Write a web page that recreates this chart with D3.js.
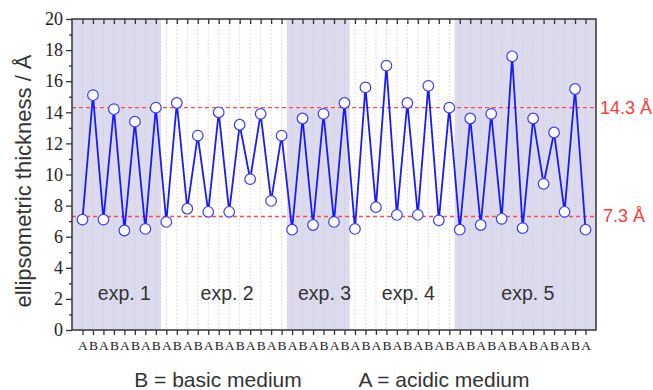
<!DOCTYPE html>
<html>
<head>
<meta charset="utf-8">
<script src="https://cdn.jsdelivr.net/npm/d3@7"></script>
<style>
  body { margin: 0; background: #fff; }
  svg { display: block; }
</style>
</head>
<body>
<div class="chart"></div>
<script>
// measured thickness for each step, A = acidic, B = basic
var thickness = [7.1, 15.1, 7.1, 14.2, 6.4, 13.4, 6.5, 14.3,
  6.95, 14.6, 7.8, 12.5, 7.6, 14.0, 7.6, 13.2, 9.7, 13.9, 8.3, 12.5,
  6.45, 13.6, 6.75, 13.9, 6.95, 14.6,
  6.5, 15.6, 7.9, 17.0, 7.4, 14.6, 7.4, 15.7, 7.05, 14.3,
  6.45, 13.6, 6.75, 13.9, 7.15, 17.6, 6.55, 13.6, 9.4, 12.7, 7.6, 15.5, 6.45];
var stepLabels = thickness.map(function(d, i){ return i % 2 === 0 ? "A" : "B"; });

var expNames = ["exp. 1", "exp. 2", "exp. 3", "exp. 4", "exp. 5"];
var expFrom = [0, 8.5, 20.5, 26.5, 36.5];
var expTo = [8.5, 20.5, 26.5, 36.5, 50];
var expShaded = [true, false, true, false, true];
var expLabelAt = [5, 14.8, 24.1, 32.1, 43.5];

var refLines = [14.3, 7.3];
var refLabels = ["14.3 Å", "7.3 Å"];
var yTicks = [0, 2, 4, 6, 8, 10, 12, 14, 16, 18, 20];

var margin = {top: 19, right: 57, bottom: 60, left: 72};
var W = 653, H = 390;
var w = W - margin.left - margin.right;
var h = H - margin.top - margin.bottom;

var svg = d3.select(".chart").append("svg")
  .attr("width", W).attr("height", H);
var g = svg.append("g").attr("transform", "translate(" + margin.left + "," + margin.top + ")");

var x = d3.scaleLinear().domain([0, thickness.length + 1]).range([0, w]);
var y = d3.scaleLinear().domain([0, 20]).range([h, 0]);

// shaded experiment bands
g.selectAll("rect.band")
  .data(expNames.map(function(n, i){ return {from: expFrom[i], to: expTo[i], on: expShaded[i]}; })
    .filter(function(d){ return d.on; }))
  .enter().append("rect")
    .attr("class", "band")
    .attr("x", function(d){ return x(d.from); })
    .attr("width", function(d){ return x(d.to) - x(d.from); })
    .attr("y", 0).attr("height", h)
    .attr("fill", "#dcdbee");

// dotted vertical grid
g.selectAll("line.grid")
  .data(thickness)
  .enter().append("line")
    .attr("class", "grid")
    .attr("x1", function(d, i){ return x(i + 1); })
    .attr("x2", function(d, i){ return x(i + 1); })
    .attr("y1", 0).attr("y2", h)
    .attr("stroke", "#c8c8c8").attr("stroke-width", 0.8)
    .attr("stroke-dasharray", "1.5,2");

// experiment labels
g.selectAll("text.exp")
  .data(expNames)
  .enter().append("text")
    .attr("class", "exp")
    .attr("x", function(d, i){ return x(expLabelAt[i]); })
    .attr("y", y(1.9))
    .attr("text-anchor", "middle")
    .attr("font-family", "Liberation Sans, Arial, sans-serif")
    .attr("font-size", 19.5)
    .attr("fill", "#333")
    .text(function(d){ return d; });

// reference lines
g.selectAll("line.ref")
  .data(refLines)
  .enter().append("line")
    .attr("class", "ref")
    .attr("x1", 0).attr("x2", w)
    .attr("y1", function(d){ return y(d); })
    .attr("y2", function(d){ return y(d); })
    .attr("stroke", "#ff4a4a").attr("stroke-width", 1.4)
    .attr("stroke-dasharray", "4,3");

g.selectAll("text.ref")
  .data(refLabels)
  .enter().append("text")
    .attr("class", "ref")
    .attr("x", function(d, i){ return w + (i === 0 ? 4 : 7); })
    .attr("y", function(d, i){ return y(refLines[i]) + 6; })
    .attr("font-family", "Liberation Sans, Arial, sans-serif")
    .attr("font-size", 18)
    .attr("fill", "#ff3b3b")
    .text(function(d){ return d; });

// data line + circles
var line = d3.line()
  .x(function(d, i){ return x(i + 1); })
  .y(function(d){ return y(d); });

g.append("path")
  .datum(thickness)
  .attr("d", line)
  .attr("fill", "none")
  .attr("stroke", "#1a1aff")
  .attr("stroke-width", 1.8);

g.selectAll("circle.pt")
  .data(thickness)
  .enter().append("circle")
    .attr("class", "pt")
    .attr("cx", function(d, i){ return x(i + 1); })
    .attr("cy", function(d){ return y(d); })
    .attr("r", 5.3)
    .attr("fill", "#fff")
    .attr("stroke", "#3a3aff")
    .attr("stroke-width", 1.2);

// axes
var idx = d3.range(1, thickness.length + 1);
var xBottom = d3.axisBottom(x).tickValues(idx).tickSize(5).tickPadding(5)
  .tickFormat(function(d){ return stepLabels[d - 1]; });
var xTop = d3.axisTop(x).tickValues(idx).tickSize(-5).tickFormat("");
var yLeft = d3.axisLeft(y).tickValues(yTicks).tickSize(6).tickPadding(3);
var yMinor = d3.axisLeft(y).tickValues(d3.range(1, 20, 2)).tickSize(3).tickFormat("");

function styleAxis(sel){
  sel.select(".domain").remove();
  sel.selectAll("line").attr("stroke", "#333").attr("stroke-width", 1.3);
  sel.selectAll("text").attr("fill", "#222")
    .attr("font-family", "Liberation Serif, Times New Roman, serif");
}

g.append("g").attr("transform", "translate(0," + h + ")").call(xBottom).call(styleAxis)
  .selectAll("text").attr("font-size", 13.5);
g.append("g").call(xTop).call(styleAxis);
g.append("g").call(yLeft).call(styleAxis).selectAll("text").attr("font-size", 18);
g.append("g").call(yMinor).call(styleAxis);

// frame
g.append("rect")
  .attr("x", 0).attr("y", 0).attr("width", w).attr("height", h)
  .attr("fill", "none").attr("stroke", "#333").attr("stroke-width", 1.5);

// axis title
svg.append("text")
  .attr("transform", "translate(31,181) rotate(-90)")
  .attr("text-anchor", "middle")
  .attr("font-family", "Liberation Sans, Arial, sans-serif")
  .attr("font-size", 22)
  .attr("fill", "#333")
  .text("ellipsometric thickness / Å");

// legend text under the axis
svg.append("text")
  .attr("x", 218).attr("y", 387)
  .attr("text-anchor", "middle")
  .attr("font-family", "Liberation Sans, Arial, sans-serif")
  .attr("font-size", 21).attr("fill", "#333")
  .text("B = basic medium");
svg.append("text")
  .attr("x", 444).attr("y", 387)
  .attr("text-anchor", "middle")
  .attr("font-family", "Liberation Sans, Arial, sans-serif")
  .attr("font-size", 21).attr("fill", "#333")
  .text("A = acidic medium");
</script>
</body>
</html>
